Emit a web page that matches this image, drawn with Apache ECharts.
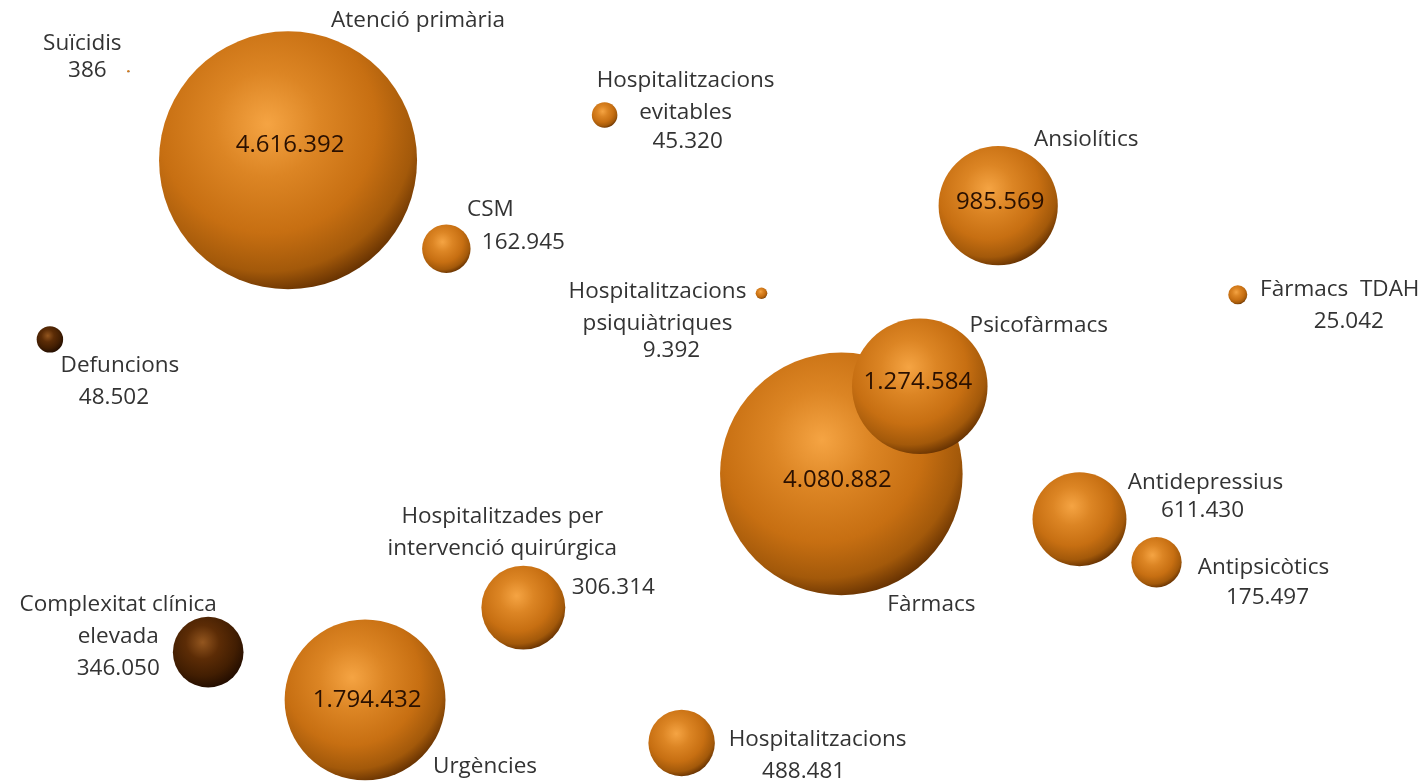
<!DOCTYPE html>
<html>
<head>
<meta charset="utf-8">
<title>Salut mental - bombolles</title>
<script src="https://cdn.jsdelivr.net/npm/echarts@6/dist/echarts.min.js"></script>
<style>
  html, body { margin: 0; padding: 0; background: #fff; }
  #chart { width: 1426px; height: 782px; }
</style>
</head>
<body>
<div id="chart"></div>
<script>
// dades del gràfic
const noms = ['Suïcidis', 'Atenció primària', 'Hospitalitzacions evitables', 'CSM', 'Ansiolítics',
  'Hospitalitzacions psiquiàtriques', 'Fàrmacs TDAH', 'Defuncions', 'Fàrmacs', 'Psicofàrmacs',
  'Antidepressius', 'Antipsicòtics', 'Hospitalitzades per intervenció quirúrgica',
  'Complexitat clínica elevada', 'Urgències', 'Hospitalitzacions'];
const valors = [386, 4616392, 45320, 162945, 985569, 9392, 25042, 48502, 4080882, 1274584,
  611430, 175497, 306314, 346050, 1794432, 488481];
// mida de la bombolla tal com surt al gràfic (dues bombolles tenen la mida intercanviada)
const mides = [386, 4616392, 45320, 162945, 985569, 9392, 25042, 48502, 4080882, 1274584,
  611430, 175497, 488481, 346050, 1794432, 306314];
const posX = [9.0, 20.2, 42.4, 31.3, 70.0, 53.4, 86.8, 3.5, 59.0, 64.5, 75.7, 81.1, 36.7, 14.6, 25.6, 47.8];
const posY = [90.9, 79.5, 85.3, 68.2, 73.7, 62.5, 62.3, 56.6, 39.4, 50.6, 33.6, 28.1, 22.3, 16.6, 10.5, 5.0];

// col·locació de les etiquetes (desplaçament en px respecte al centre de la bombolla)
const etiquetes = {
  'Suïcidis': { nom: [-46, -28], valor: [-41, -1] },
  'Atenció primària': { nom: [130, -140], valor: [2, -15], dins: true },
  'Hospitalitzacions evitables': { text: 'Hospitalitzacions\nevitables', nom: [81, -18], valor: [83, 27] },
  'CSM': { nom: [44, -39], valor: [77, -6] },
  'Ansiolítics': { nom: [88, -66], valor: [2, -4], dins: true },
  'Hospitalitzacions psiquiàtriques': { text: 'Hospitalitzacions\npsiquiàtriques', nom: [-104, 14], valor: [-90, 57] },
  'Fàrmacs TDAH': { text: 'Fàrmacs  TDAH', nom: [102, -5], valor: [111, 27] },
  'Defuncions': { nom: [70, 26], valor: [64, 58] },
  'Fàrmacs': { nom: [90, 131], valor: [-4, 6], dins: true },
  'Psicofàrmacs': { nom: [119, -61], valor: [-2, -4], dins: true },
  'Antidepressius': { nom: [126, -37], valor: [123, -9] },
  'Antipsicòtics': { nom: [107, 5], valor: [111, 35] },
  'Hospitalitzades per intervenció quirúrgica': { text: 'Hospitalitzades per\nintervenció quirúrgica', nom: [-21, -75], valor: [90, -20] },
  'Complexitat clínica elevada': { text: 'Complexitat clínica\nelevada', nom: [-90, -32], valor: [-90, 16] },
  'Urgències': { nom: [120, 67], valor: [2, 0], dins: true },
  'Hospitalitzacions': { nom: [136, -3], valor: [122, 29] }
};
const fosques = ['Defuncions', 'Complexitat clínica elevada'];

const maxMida = Math.max(...mides);
const diametre = (v) => Math.max(2, 258 * Math.sqrt(v / maxMida));
const milers = (v) => v.toString().replace(/\B(?=(\d{3})+(?!\d))/g, '.');

// degradat radial per fer l'efecte d'esfera
function esfera(fosc) {
  const stops = fosc
    ? [['#93561f', 0], ['#5c2c06', 0.35], ['#421e02', 0.7], ['#1f0b00', 1]]
    : [['#f5a443', 0], ['#dc8524', 0.3], ['#c76f12', 0.62], ['#a3590a', 0.84], ['#5a2a00', 1]];
  return {
    type: 'radial', x: 0.42, y: 0.36, r: 0.68,
    colorStops: stops.map(s => ({ color: s[0], offset: s[1] }))
  };
}

const font = '"Open Sans", "Noto Sans", sans-serif';

const dadesBombolles = noms.map((n, i) => {
  const e = etiquetes[n];
  return {
    name: n,
    value: [posX[i], posY[i], valors[i], mides[i]],
    itemStyle: { color: esfera(fosques.includes(n)), opacity: 1 },
    label: {
      offset: e.valor,
      color: e.dins ? '#2a1000' : '#333333',
      fontSize: e.dins ? 24 : 22.5
    }
  };
});

const dadesNoms = noms.map((n, i) => {
  const e = etiquetes[n];
  return {
    name: n,
    value: [posX[i], posY[i], valors[i], mides[i]],
    label: { offset: e.nom, formatter: e.text || n }
  };
});

const chart = echarts.init(document.getElementById('chart'));
chart.setOption({
  animation: false,
  backgroundColor: '#ffffff',
  grid: { left: 0, right: 0, top: 0, bottom: 0 },
  xAxis: { type: 'value', min: 0, max: 100, show: false },
  yAxis: { type: 'value', min: 0, max: 100, show: false },
  series: [
    {
      name: 'bombolles',
      type: 'scatter',
      silent: true,
      data: dadesBombolles,
      symbolSize: (val) => diametre(val[3]),
      itemStyle: { opacity: 1 },
      label: {
        show: true,
        position: 'inside',
        fontFamily: font,
        formatter: (p) => milers(p.value[2])
      },
      z: 2
    },
    {
      name: 'noms',
      type: 'scatter',
      silent: true,
      data: dadesNoms,
      symbolSize: (val) => diametre(val[3]),
      itemStyle: { color: 'rgba(0,0,0,0)', opacity: 1 },
      label: {
        show: true,
        position: 'inside',
        fontFamily: font,
        fontSize: 22.5,
        lineHeight: 32,
        color: '#333333'
      },
      z: 3
    }
  ]
});
</script>
</body>
</html>
